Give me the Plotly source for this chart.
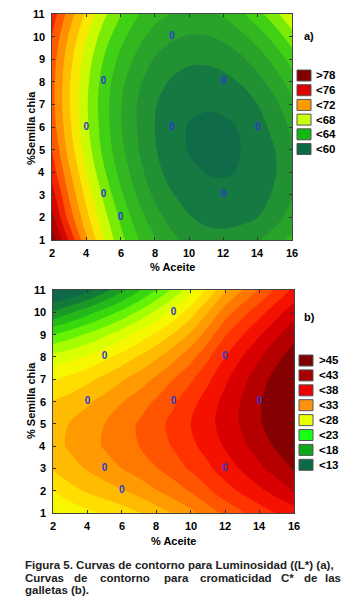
import plotly.graph_objects as go

W, H = 358, 607
FONT = "Liberation Sans, Arial, sans-serif"

# ---------------- data ----------------
aceite = [2, 3, 4, 5, 6, 7, 8, 9, 10, 11, 12, 13, 14, 15, 16]   # % Aceite (x)
semilla = [1, 2, 3, 4, 5, 6, 7, 8, 9, 10, 11]                    # % Semilla chia (y)

# (a) Luminosidad L*  rows = semilla 1..11, cols = aceite 2..16
lum = [
    [81.8, 77.8, 73.8, 70.6, 68.0, 66.1, 64.6, 63.4, 62.6, 62.1, 62.0, 62.3, 62.9, 63.8, 64.9],
    [80.0, 75.9, 72.5, 69.6, 67.2, 65.2, 63.6, 62.4, 61.6, 61.1, 61.0, 61.1, 61.5, 62.4, 63.7],
    [78.7, 74.8, 71.5, 68.7, 66.3, 64.3, 62.7, 61.6, 60.8, 60.4, 60.3, 60.5, 60.9, 61.7, 62.8],
    [77.4, 73.8, 70.6, 67.8, 65.5, 63.6, 62.0, 60.9, 60.25, 59.95, 59.9, 60.05, 60.5, 61.4, 62.6],
    [76.5, 72.9, 69.8, 67.1, 64.9, 63.1, 61.6, 60.6, 59.9, 59.5, 59.5, 60.0, 60.6, 61.5, 62.8],
    [75.8, 72.4, 69.4, 66.8, 64.6, 62.9, 61.5, 60.5, 59.9, 59.6, 59.7, 60.1, 60.9, 62.0, 63.3],
    [75.5, 72.1, 69.2, 66.7, 64.6, 62.9, 61.6, 60.7, 60.25, 60.2, 60.3, 60.7, 61.5, 62.6, 64.1],
    [75.5, 72.2, 69.4, 66.9, 64.9, 63.3, 62.1, 61.3, 60.8, 60.7, 61.0, 61.6, 62.5, 63.7, 65.2],
    [75.8, 72.6, 69.8, 67.5, 65.6, 64.1, 62.9, 62.2, 61.8, 61.8, 62.1, 62.7, 63.7, 65.0, 66.6],
    [76.4, 73.3, 70.6, 68.3, 66.5, 65.0, 63.9, 63.2, 62.9, 62.9, 63.3, 64.1, 65.2, 66.6, 68.4],
    [77.4, 74.3, 71.7, 69.4, 67.6, 66.1, 65.0, 64.4, 64.2, 64.3, 64.7, 65.7, 67.0, 68.5, 70.4],
]

# (b) Cromaticidad C*
croma = [
    [26.8, 27.7, 28.5, 29.2, 30.0, 30.9, 32.0, 33.2, 34.5, 36.0, 37.5, 38.8, 40.0, 41.1, 42.0],
    [29.0, 30.3, 31.3, 32.1, 32.8, 33.8, 34.9, 36.0, 37.2, 38.7, 40.2, 41.4, 42.6, 43.8, 45.0],
    [31.3, 32.3, 33.2, 34.1, 35.0, 35.9, 36.9, 38.0, 39.3, 40.6, 42.0, 43.3, 44.6, 45.9, 47.2],
    [32.3, 33.3, 34.2, 35.2, 36.1, 37.0, 38.0, 39.2, 40.5, 41.8, 43.2, 44.6, 46.0, 47.3, 48.6],
    [32.2, 33.1, 34.0, 35.0, 36.1, 37.2, 38.3, 39.6, 41.0, 42.4, 43.8, 45.3, 46.8, 48.1, 49.4],
    [31.1, 31.8, 32.7, 33.7, 34.9, 36.0, 37.3, 38.7, 40.3, 41.9, 43.6, 45.2, 46.8, 48.2, 49.6],
    [28.9, 29.6, 30.5, 31.6, 32.8, 34.0, 35.4, 37.0, 38.7, 40.6, 42.6, 44.5, 46.2, 47.8, 49.2],
    [25.7, 26.4, 27.3, 28.5, 29.8, 31.2, 32.7, 34.4, 36.3, 38.6, 41.0, 43.0, 44.8, 46.5, 48.0],
    [21.0, 22.1, 23.3, 24.6, 26.1, 27.7, 29.4, 31.2, 33.3, 36.0, 38.8, 40.9, 42.8, 44.7, 46.4],
    [15.2, 16.7, 18.3, 19.9, 21.5, 23.4, 25.4, 27.6, 30.0, 33.0, 36.0, 38.3, 40.3, 42.3, 44.2],
    [10.0, 10.9, 12.3, 14.3, 16.5, 18.7, 21.0, 23.5, 26.3, 29.5, 32.6, 35.0, 37.2, 39.4, 41.5],
]

# experimental design points
pts_x = [9, 5, 12, 4, 9, 14, 5, 12, 6]
pts_y = [10, 8, 8, 6, 6, 6, 3, 3, 2]

x_ticks = [2, 4, 6, 8, 10, 12, 14, 16]
y_ticks = [1, 2, 3, 4, 5, 6, 7, 8, 9, 10, 11]

legend_a = [">78", "<76", "<72", "<68", "<64", "<60"]
legend_a_colors = ["#800000", "#dd0000", "#ff9a00", "#c6ff10", "#10b810", "#0c6a48"]
legend_b = [">45", "<43", "<38", "<33", "<28", "<23", "<18", "<13"]
legend_b_colors = ["#800000", "#a80000", "#ee0000", "#ff9010", "#e8ff00", "#18ff18", "#10a818", "#0c6a48"]

# band colours (low -> high)
bands_a = ["#0f6b48", "#1d873a", "#269a2e", "#2eab26", "#36c21b", "#4cdf0c",
           "#a6f700", "#eeff00", "#ffd400", "#ffaa00", "#ff7700", "#ff3a00",
           "#e60d00", "#c00000", "#a00000", "#850000"]
bands_b = ["#0e6a46", "#168c2c", "#1ea81e", "#2cc814", "#44e80a", "#88fb00",
           "#c4ff00", "#eeff00", "#ffee00", "#ffcc00", "#ffaa00", "#ff8a00",
           "#ff6600", "#ff4400", "#ff2200", "#e80000", "#c80000", "#a40000", "#850000"]


def band_scale(colors):
    nc = len(colors) - 1
    sc = [[0.0, colors[0]], [0.5 / nc, colors[0]]]
    for j in range(1, nc):
        sc.append([(j + 0.5) / nc, colors[j]])
    sc.append([1.0, colors[nc]])
    return sc


def X(px):
    return px / W


def Y(py):
    return 1 - py / H


fig = go.Figure()

fig.add_trace(go.Contour(
    x=aceite, y=semilla, z=lum, autocontour=False,
    contours=dict(start=60, end=81, size=1.5, coloring="fill", showlines=False),
    colorscale=band_scale(bands_a), showscale=False,
    line=dict(width=0, smoothing=1.0), hoverinfo="skip",
    xaxis="x", yaxis="y"))

fig.add_trace(go.Contour(
    x=aceite, y=semilla, z=croma, autocontour=False,
    contours=dict(start=13, end=47, size=2, coloring="fill", showlines=False),
    colorscale=band_scale(bands_b), showscale=False,
    line=dict(width=0, smoothing=1.0), hoverinfo="skip",
    xaxis="x2", yaxis="y2"))

for xa, ya in (("x", "y"), ("x2", "y2")):
    fig.add_trace(go.Scatter(
        x=pts_x, y=pts_y, mode="text", text=["0"] * len(pts_x),
        textposition="middle center",
        textfont=dict(family=FONT, size=10, color="#2a3ad0", weight="bold"),
        hoverinfo="skip", showlegend=False, xaxis=xa, yaxis=ya))

axis_common = dict(
    showgrid=False, zeroline=False, showline=True, linecolor="#444", linewidth=1,
    mirror="ticks", ticks="inside", ticklen=3, tickcolor="#333",
    showticklabels=False,
)

fig.update_layout(
    width=W, height=H, autosize=False,
    margin=dict(l=0, r=0, t=0, b=0),
    paper_bgcolor="white", plot_bgcolor="white",
    showlegend=False,
    xaxis=dict(domain=[X(52), X(292)], range=[2, 16], tickvals=x_ticks,
               anchor="y", **axis_common),
    yaxis=dict(domain=[Y(240), Y(14)], range=[1, 11], tickvals=y_ticks,
               anchor="x", **axis_common),
    xaxis2=dict(domain=[X(53), X(294)], range=[2, 16], tickvals=x_ticks,
                anchor="y2", **axis_common),
    yaxis2=dict(domain=[Y(513), Y(290)], range=[1, 11], tickvals=y_ticks,
                anchor="x2", **axis_common),
)

ann = []
shapes = []


def text(px, py, s, size=11, xanchor="center", angle=0, bold=True, color="black"):
    ann.append(dict(x=X(px), y=Y(py), xref="paper", yref="paper", text=s,
                    showarrow=False, xanchor=xanchor, yanchor="middle",
                    textangle=angle,
                    font=dict(family=FONT, size=size, color=color,
                              weight="bold" if bold else "normal")))


# tick labels (placed on the axes' own data coordinates)
for xref, py in (("x", 253), ("x2", 526)):
    for v in x_ticks:
        ann.append(dict(x=v, y=Y(py), xref=xref, yref="paper", text=str(v),
                        showarrow=False, xanchor="center", yanchor="middle",
                        font=dict(family=FONT, size=11, color="black", weight="bold")))
for yref, px in (("y", 47), ("y2", 48)):
    for v in y_ticks:
        ann.append(dict(x=X(px), y=v, xref="paper", yref=yref, text=str(v),
                        showarrow=False, xanchor="right", yanchor="middle",
                        font=dict(family=FONT, size=11, color="black", weight="bold")))

# axis titles
text(172, 267, "% Aceite")
text(173, 541, "% Aceite")
text(31, 128, "%Semilla chia", angle=-90)
text(31, 401, "% Semilla chia", angle=-90)

# panel labels
text(309, 36, "a)")
text(309, 317, "b)")

# legends
for i, (lab, col) in enumerate(zip(legend_a, legend_a_colors)):
    cy = 75.5 + i * 14.7
    shapes.append(dict(type="rect", xref="paper", yref="paper",
                       x0=X(297), x1=X(311), y0=Y(cy + 5.5), y1=Y(cy - 5.5),
                       fillcolor=col, line=dict(color="#555", width=1)))
    text(314, cy, lab, size=11.5, xanchor="left")

for i, (lab, col) in enumerate(zip(legend_b, legend_b_colors)):
    cy = 360.5 + i * 14.9
    shapes.append(dict(type="rect", xref="paper", yref="paper",
                       x0=X(299), x1=X(313), y0=Y(cy + 5.5), y1=Y(cy - 5.5),
                       fillcolor=col, line=dict(color="#555", width=1)))
    text(317, cy, lab, size=11.5, xanchor="left")

# caption
CAP = "#222222"
text(23, 565, "Figura 5. Curvas de contorno para Luminosidad ((L*) (a),",
     size=11.5, xanchor="left", color=CAP)
line2 = ["Curvas", "de", "contorno", "para", "cromaticidad", "C*", "de", "las"]
line2_x = [23, 80, 125, 176.5, 236, 287, 310, 343]
line2_anchor = ["left", "center", "center", "center", "center", "center", "center", "right"]
for wd, px, anc in zip(line2, line2_x, line2_anchor):
    text(px, 578, wd, size=11.5, xanchor=anc, color=CAP)
text(23, 590, "galletas (b).", size=11.5, xanchor="left", color=CAP)

fig.update_layout(annotations=ann, shapes=shapes)

fig.write_html("out.html", config={"displayModeBar": False},
               post_script="document.body.style.margin='0px';")
